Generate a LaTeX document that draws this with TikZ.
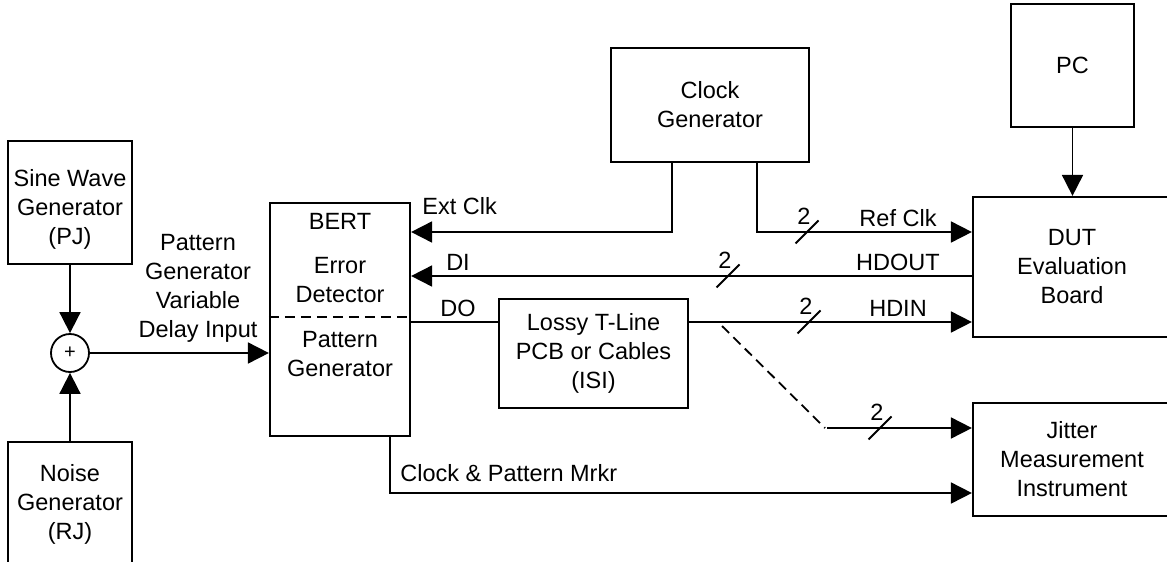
\documentclass[tikz,border=0pt]{standalone}
\usepackage{fontspec}
\setmainfont{Liberation Sans}
\usetikzlibrary{arrows.meta}

\tikzset{
  blk/.style={draw, line width=1.1pt, inner sep=0pt, align=center},
  lbl/.style={inner sep=0pt, align=center},
  wire/.style={line width=0.9pt},
  sig/.style={wire, -{Triangle[length=10.5pt,width=10.5pt]}},
  dashwire/.style={wire, dash pattern=on 5pt off 3pt},
}

\begin{document}
\begin{tikzpicture}[x=0.5pt, y=-0.5pt, font=\fontsize{11.75}{14.5}\selectfont]
    \useasboundingbox (0,0) rectangle (1167,562);

    % jitter sources
    \node[blk, minimum width=62pt, minimum height=61.5pt,
          label={[lbl, yshift=-3.5pt]center:Sine Wave\\Generator\\(PJ)}] (sine) at (70,202.5) {};
    \node[blk, minimum width=62pt, minimum height=62pt] (noise) at (70,504) {Noise\\Generator\\(RJ)};
    \node[draw, circle, wire, minimum size=19pt, inner sep=0pt, font=\fontsize{10}{10}\selectfont] (sum) at (70,353) {+};

    % BERT
    \node[blk, minimum width=70pt, minimum height=116.5pt] (bert) at (340,319.5) {};
    \node[lbl] (bertlbl) at (340,221) {BERT};
    \node[lbl] (edlbl) at (340,280.5) {Error\\Detector};
    \node[lbl] (pglbl) at (340,354.5) {Pattern\\Generator};
    \coordinate (ysplit) at (0,317);
    \draw[dashwire] (bert.west |- ysplit) -- (bert.east |- ysplit);

    % other blocks
    \node[blk, minimum width=99pt, minimum height=57pt] (clock) at (710,105) {Clock\\Generator};
    \node[blk, minimum width=61.5pt, minimum height=61.5pt] (pc) at (1072.5,65.5) {PC};
    \node[blk, minimum width=99pt, minimum height=70pt] (dut) at (1072,267) {DUT\\Evaluation\\Board};
    \node[blk, minimum width=99pt, minimum height=56.5pt] (jitter) at (1072,459.5) {Jitter\\Measurement\\Instrument};
    \node[blk, minimum width=94.5pt, minimum height=54.5pt] (lossy) at (593.5,353.5) {Lossy T-Line\\PCB or Cables\\(ISI)};

    % signal levels
    \coordinate (yclk) at (0,232);
    \coordinate (yhdo) at (0,276);
    \coordinate (yhdi) at (0,322);
    \coordinate (ymk) at (0,493);
    \coordinate (tap) at (722,326);
    \coordinate (brk) at (825,428);

    % connections
    \draw[sig] (sine) -- (sum);
    \draw[sig] (noise) -- (sum);
    \draw[sig] (sum) -- (sum -| bert.west);
    \draw[sig] ([xshift=-19pt]clock.south) |- (bert.east |- yclk);
    \draw[sig] ([xshift=23.5pt]clock.south) |- (dut.west |- yclk);
    \draw[sig] (dut.west |- yhdo) -- (bert.east |- yhdo);
    \draw[wire] (bert.east |- yhdi) -- (lossy.west |- yhdi);
    \draw[sig] (lossy.east |- yhdi) -- (dut.west |- yhdi);
    \draw[dashwire] (tap) -- (brk);
    \draw[sig] ([xshift=1pt]brk) -- (jitter.west |- brk);
    \draw[sig] ([xshift=25pt]bert.south) |- (jitter.west |- ymk);
    \draw[sig] (pc) -- (pc |- dut.north);

    % bus widths
    \foreach \bx/\by in {807/232, 728/276, 809/322, 880/428} {
        \draw[wire] (\bx-11.5,\by+11.5) -- (\bx+11.5,\by-11.5);
        \node[lbl] (w\bx) at (\bx-3,\by-16) {2};
    }

    % labels
    \node[lbl] (pgvd) at (198,288) {Pattern\\Generator\\Variable\\Delay Input};
    \node[lbl, anchor=west] (extlbl) at (422,206) {Ext Clk};
    \node[lbl] (reflbl) at (898,218) {Ref Clk};
    \node[lbl] (hdolbl) at (898,262) {HDOUT};
    \node[lbl] (dilbl) at (458,262) {DI};
    \node[lbl] (dolbl) at (458,308) {DO};
    \node[lbl] (hdilbl) at (898,308) {HDIN};
    \node[lbl, anchor=west] (mklbl) at (400,473) {Clock \& Pattern Mrkr};
\end{tikzpicture}
\end{document}
